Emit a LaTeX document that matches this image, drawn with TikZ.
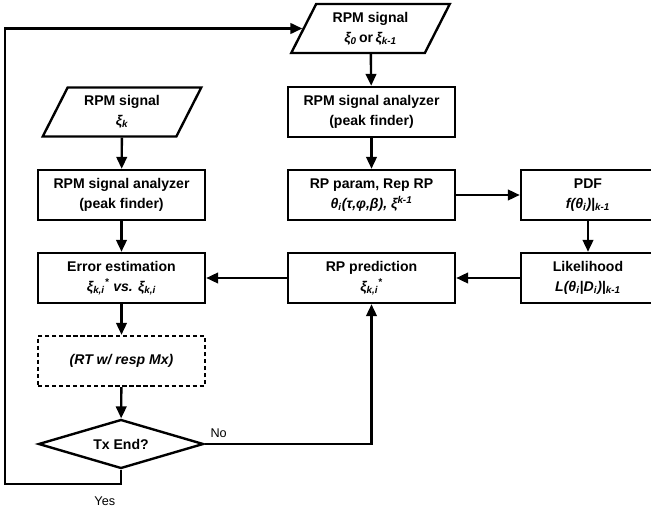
\documentclass[tikz,border=0pt]{standalone}
\usepackage{fontspec}
\setmainfont{Liberation Sans}
\usetikzlibrary{arrows.meta,shapes.geometric}
\newcommand{\ssub}[1]{\textsubscript{#1}}
\newcommand{\ssup}[1]{\textsuperscript{#1}}
\begin{document}
\begin{tikzpicture}[x=0.025cm,y=-0.025cm,line width=1.7pt,
  >={Triangle[length=8.5pt,width=7.5pt]},
  txt/.style={font=\bfseries\fontsize{10}{14}\selectfont,align=center},
  procbox/.style={txt,draw,rectangle,minimum width=4.175cm,minimum height=1.25cm,inner sep=2pt},
  iobox/.style={txt,draw,trapezium,trapezium left angle=63,trapezium right angle=117,
    minimum width=3.875cm,minimum height=1.225cm,inner sep=1pt},
  optbox/.style={procbox,dash pattern=on 3pt off 2pt},
  decbox/.style={txt,draw,diamond,aspect=3.4,minimum width=4.125cm,minimum height=1.225cm,inner sep=0pt}]
\useasboundingbox (0,0) rectangle (651,512);
\node[iobox] (sigprev) at (370.5,28.5) {RPM signal\\\textit{ξ\ssub{0}}\,or\,\textit{ξ\ssub{k-1}}};
\node[procbox] (anaprev) at (371.5,112) {RPM signal analyzer\\(peak finder)};
\node[procbox] (param) at (371.5,195) {RP param, Rep RP\\\textit{θ\ssub{i}(τ,φ,β), ξ\ssup{k-1}}};
\node[procbox,minimum width=3.35cm] (pdf) at (588,195) {PDF\\\textit{f(θ\ssub{i})|\ssub{k-1}}};
\node[procbox,minimum width=3.35cm] (lik) at (588,278) {Likelihood\\\textit{L(θ\ssub{i}|D\ssub{i})|\ssub{k-1}}};
\node[procbox] (pred) at (371.5,278) {RP prediction\\\textit{ξ\ssub{k,i}\ssup{*}}};
\node[iobox] (sigk) at (122,112) {RPM signal\\\textit{ξ\ssub{k}}};
\node[procbox] (ana) at (121.5,195) {RPM signal analyzer\\(peak finder)};
\node[procbox] (err) at (121.5,278) {Error estimation\\\textit{ξ\ssub{k,i}\ssup{*} vs. ξ\ssub{k,i}}};
\node[optbox] (rt) at (121.5,361) {\textit{(RT w/ resp Mx)}};
\node[decbox] (tx) at (121,444) {Tx End?};
\coordinate (loop) at (5,484);
\draw[->] (sigprev) -- (anaprev);
\draw[->] (anaprev) -- (param);
\draw[->] (param) -- (pdf);
\draw[->] (pdf) -- (lik);
\draw[->] (lik) -- (pred);
\draw[->] (pred) -- (err);
\draw[->] (sigk) -- (ana);
\draw[->] (ana) -- (err);
\draw[->] (err) -- (rt);
\draw[->] (rt) -- (tx);
\draw[->] (tx.east) node[above right,font=\fontsize{9}{10}\selectfont]{No} -| (pred.south);
\draw[->] (tx.south) |- node[pos=0.5,below left,yshift=-5pt,font=\fontsize{9}{10}\selectfont]{Yes} (loop) |- (sigprev.west);
\end{tikzpicture}
\end{document}
